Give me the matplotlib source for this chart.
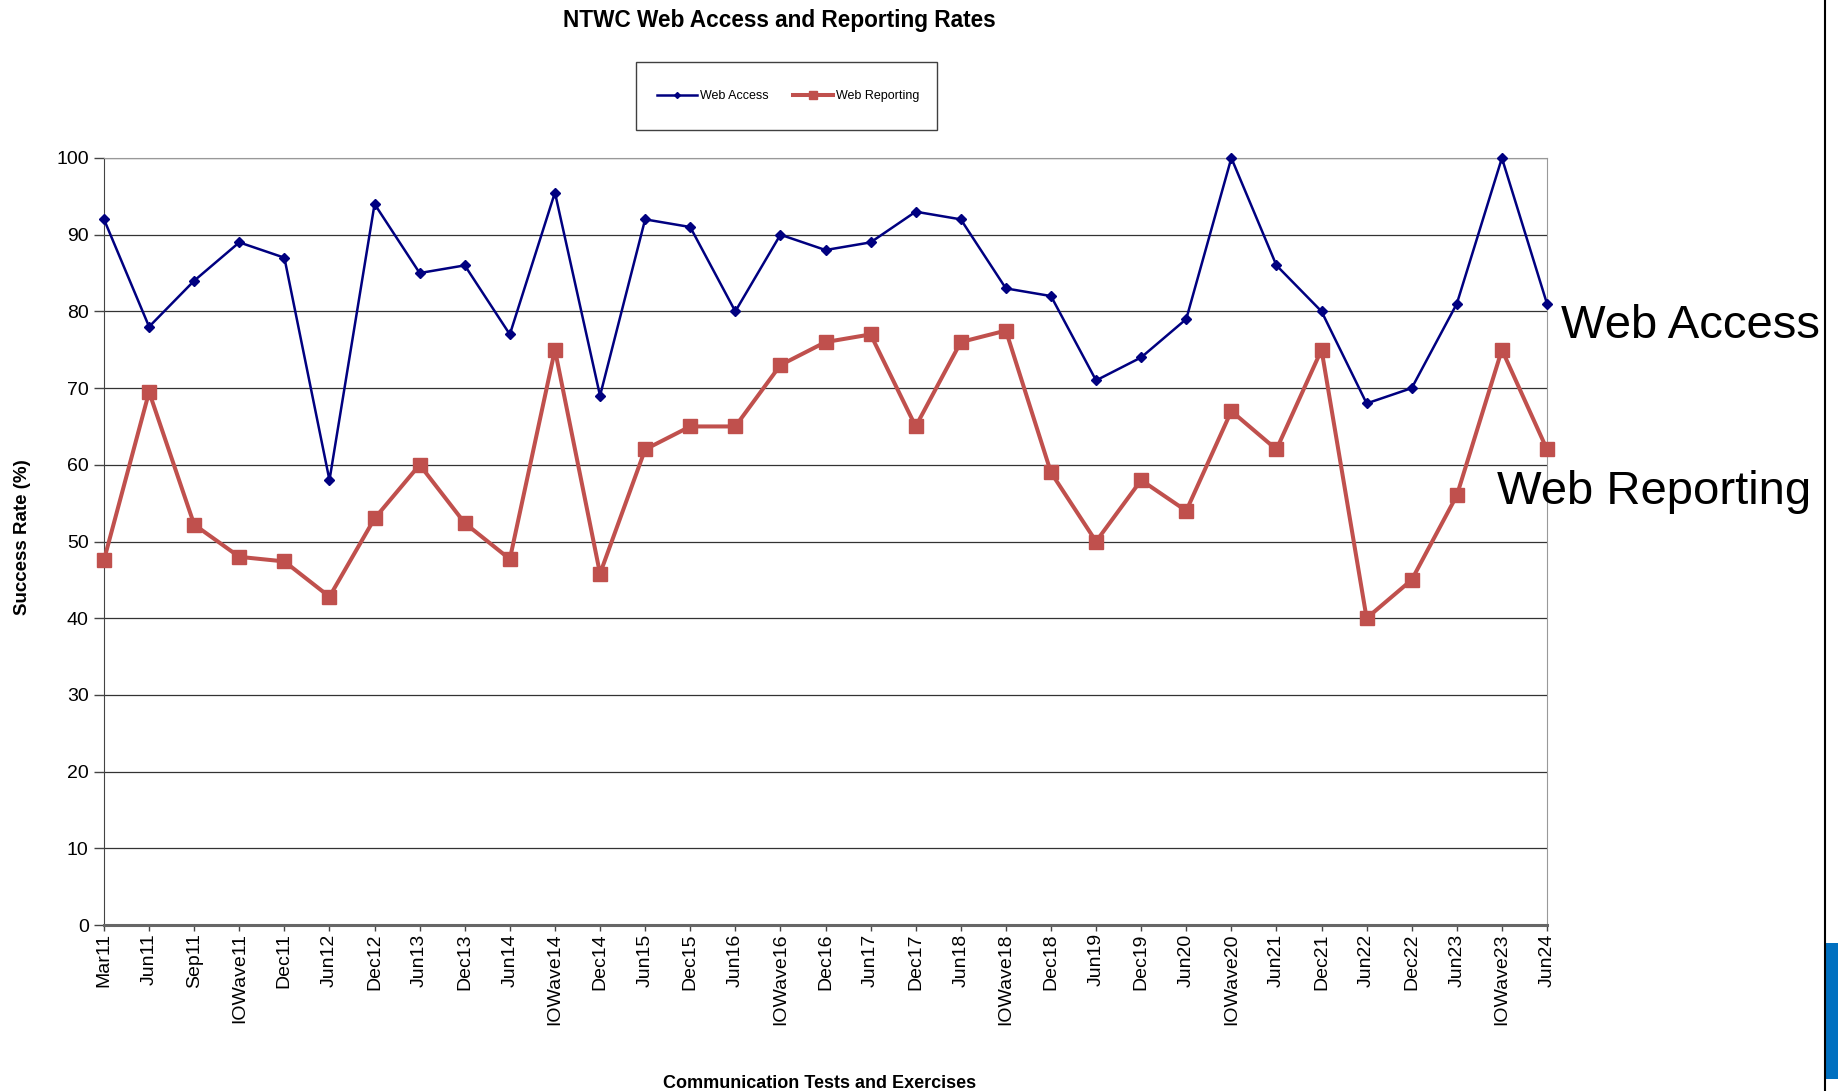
import matplotlib
matplotlib.use('Agg')
import matplotlib.pyplot as plt
from matplotlib.patches import Rectangle
from matplotlib.lines import Line2D

plt.rcParams['font.family'] = ['Liberation Sans', 'DejaVu Sans']

tests = ['Mar11', 'Jun11', 'Sep11', 'IOWave11', 'Dec11', 'Jun12', 'Dec12', 'Jun13',
         'Dec13', 'Jun14', 'IOWave14', 'Dec14', 'Jun15', 'Dec15', 'Jun16', 'IOWave16',
         'Dec16', 'Jun17', 'Dec17', 'Jun18', 'IOWave18', 'Dec18', 'Jun19', 'Dec19',
         'Jun20', 'IOWave20', 'Jun21', 'Dec21', 'Jun22', 'Dec22', 'Jun23', 'IOWave23',
         'Jun24']
web_access = [92, 78, 84, 89, 87, 58, 94, 85, 86, 77, 95.5, 69, 92, 91, 80, 90,
              88, 89, 93, 92, 83, 82, 71, 74, 79, 100, 86, 80, 68, 70, 81, 100, 81]
web_reporting = [47.6, 69.5, 52.2, 48, 47.4, 42.8, 53, 60, 52.4, 47.7, 75, 45.8,
                 62, 65, 65, 73, 76, 77, 65, 76, 77.5, 59, 50, 58, 54, 67, 62, 75,
                 40, 45, 56, 75, 62]

W, H = 1838, 1091


def px(x, y):
    # pixel position (from top-left) -> figure fraction
    return x / W, 1 - y / H


fig = plt.figure(figsize=(W / 100, H / 100), dpi=100)
left, top = px(104, 158)
right, bottom = px(1547, 925)
ax = fig.add_axes([left, bottom, right - left, top - bottom])

x = list(range(len(tests)))
ax.plot(x, web_access, color='#000080', lw=1.8, marker='D', ms=5,
        label='Web Access', zorder=4, clip_on=False)
ax.plot(x, web_reporting, color='#C0504D', lw=2.9, marker='s', ms=9.5,
        label='Web Reporting', zorder=3, clip_on=False)

ax.set_xlim(0, len(tests) - 1)
ax.set_ylim(0, 100)
ax.set_yticks(range(0, 101, 10))
ax.set_xticks(x)
ax.set_xticklabels(tests, rotation=90, fontsize=14)
ax.tick_params(axis='y', labelsize=14, length=7, width=1, color='#444444', pad=4)
ax.tick_params(axis='x', length=4, width=1, color='#444444', pad=2)
ax.yaxis.grid(True, color='#333333', lw=0.9)
ax.set_axisbelow(True)

ax.spines['left'].set_color('#444444')
ax.spines['bottom'].set_color('#666666')
ax.spines['bottom'].set_linewidth(2.2)
ax.spines['right'].set_color('#999999')
ax.spines['top'].set_color('#999999')

# titles and axis labels
fig.text(*px(779, 20), 'NTWC Web Access and Reporting Rates', fontsize=16.3,
         fontweight='bold', ha='center', va='center')
fig.text(*px(23, 537), 'Success Rate (%)', fontsize=13.5, fontweight='bold',
         rotation=90, ha='center', va='center')
fig.text(*px(820, 1083), 'Communication Tests and Exercises', fontsize=13,
         fontweight='bold', ha='center', va='center')

# legend box
lx0, ly0 = px(636, 130)
lx1, ly1 = px(937, 62)
fig.add_artist(Rectangle((lx0, ly0), lx1 - lx0, ly1 - ly0, transform=fig.transFigure,
                         fill=False, edgecolor='#404040', lw=1))
fig.legend(loc='center', bbox_to_anchor=px(788, 96), ncol=2, frameon=False,
           fontsize=9, handlelength=3.2, handletextpad=0.2, columnspacing=2.0,
           markerscale=0.6)

# big series labels at right
fig.text(*px(1561, 326), 'Web Access', fontsize=34, ha='left', va='center')
fig.text(*px(1497, 492), 'Web Reporting', fontsize=34, ha='left', va='center')

# slide edge decorations
fig.add_artist(Line2D([1825 / W, 1825 / W], [0, 1], transform=fig.transFigure,
                      color='black', lw=1.5))
bx0, by0 = px(1826, 1079)
bx1, by1 = px(1838, 943)
fig.add_artist(Rectangle((bx0, by0), bx1 - bx0, by1 - by0, transform=fig.transFigure,
                         color='#0070C0', lw=0))

fig.savefig('out.png', dpi=100)
